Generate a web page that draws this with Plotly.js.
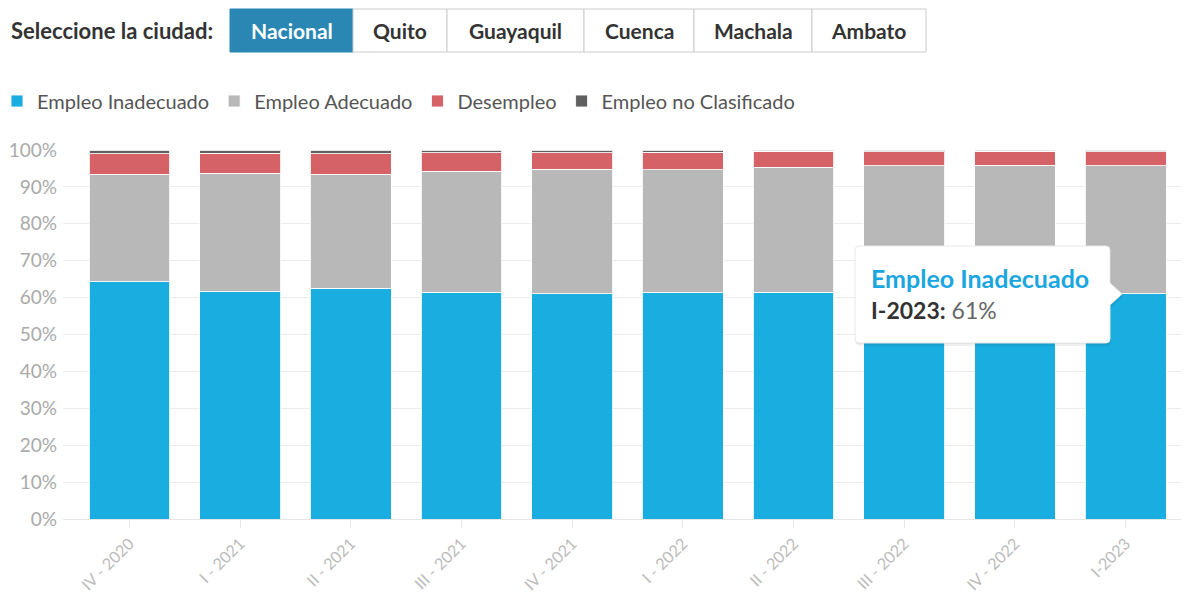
<!DOCTYPE html>
<html>
<head>
<meta charset="utf-8">
<script src="https://cdn.plot.ly/plotly-3.0.1.min.js"></script>
<style>
  html, body { margin: 0; padding: 0; background: #fff; }
  #chart { width: 1184px; height: 594px; }
</style>
</head>
<body>
<div id="chart"></div>
<script>
// ---- data ----
const categories = ['IV - 2020', 'I - 2021', 'II - 2021', 'III - 2021', 'IV - 2021', 'I - 2022', 'II - 2022', 'III - 2022', 'IV - 2022', 'I-2023'];
const empleoInadecuado = [64.3, 61.6, 62.6, 61.4, 61.0, 61.3, 61.5, 61.4, 60.6, 61.0];
const empleoAdecuado   = [29.1, 32.1, 30.8, 32.9, 33.8, 33.3, 33.8, 34.3, 35.3, 34.8];
const desempleo        = [5.6, 5.4, 5.6, 5.0, 4.5, 4.8, 4.4, 3.8, 3.8, 3.7];
const noClasificado    = [1.0, 0.9, 1.0, 0.7, 0.7, 0.6, 0.3, 0.5, 0.3, 0.5];
const seriesNames = ['Empleo Inadecuado', 'Empleo Adecuado', 'Desempleo', 'Empleo no Clasificado'];
const cities = ['Nacional', 'Quito', 'Guayaquil', 'Cuenca', 'Machala', 'Ambato'];
const selectorLabel = 'Seleccione la ciudad:';
const tooltipIndex = 9;

// ---- layout helpers ----
const W = 1184, H = 594;
const M = { l: 63, r: 3, t: 150, b: 75, autoexpand: false };
const PW = W - M.l - M.r, PH = H - M.t - M.b;
const px = x => (x - M.l) / PW;
const py = y => (H - M.b - y) / PH;
const FONT = 'Lato, "Open Sans", sans-serif';
const colors = ['#1aade0', '#b8b8b8', '#d46266', '#606060'];

const values = [empleoInadecuado, empleoAdecuado, desempleo, noClasificado];
const traces = values.map((v, i) => ({
  type: 'bar',
  name: seriesNames[i],
  x: categories,
  y: v,
  marker: { color: colors[i], line: { color: 'rgba(255,255,255,0.85)', width: 1 } },
  hoverinfo: 'none'
}));

// ---- city selector (buttons drawn as shapes + text) ----
const btnEdges = [230, 353, 447, 584, 694, 812, 926];
const shapes = [];
const annotations = [];
annotations.push({
  xref: 'paper', yref: 'paper', x: px(9), y: py(30), xanchor: 'left', yanchor: 'middle',
  text: selectorLabel, showarrow: false,
  font: { family: FONT, size: 22, color: '#333', weight: 700 }
});
cities.forEach((c, i) => {
  const x0 = btnEdges[i], x1 = btnEdges[i + 1];
  const active = i === 0;
  shapes.push({
    type: 'rect', xref: 'paper', yref: 'paper',
    x0: px(x0), x1: px(x1), y0: py(52), y1: py(9),
    fillcolor: active ? '#2a87b4' : '#ffffff',
    line: { color: active ? '#2a87b4' : '#cccccc', width: 1 },
    layer: 'above'
  });
  annotations.push({
    xref: 'paper', yref: 'paper', x: px((x0 + x1) / 2), y: py(30), xanchor: 'center', yanchor: 'middle',
    text: c, showarrow: false,
    font: { family: FONT, size: 21, color: active ? '#ffffff' : '#333333', weight: 700 }
  });
});

// ---- tooltip ----
function tipPath(dx, dy) {
  const L = 855 + dx, R = 1110 + dx, T = 246 + dy, B = 343 + dy, r = 4, ay = 294 + dy;
  const P = (x, y) => px(x) + ',' + py(y);
  return 'M' + P(L + r, T) + ' L' + P(R - r, T) + ' Q' + P(R, T) + ' ' + P(R, T + r) +
    ' L' + P(R, ay - 11) + ' L' + P(R + 12, ay) + ' L' + P(R, ay + 11) +
    ' L' + P(R, B - r) + ' Q' + P(R, B) + ' ' + P(R - r, B) +
    ' L' + P(L + r, B) + ' Q' + P(L, B) + ' ' + P(L, B - r) +
    ' L' + P(L, T + r) + ' Q' + P(L, T) + ' ' + P(L + r, T) + ' Z';
}
shapes.push({ type: 'path', xref: 'paper', yref: 'paper', path: tipPath(1, 3), fillcolor: 'rgba(0,0,0,0.06)', line: { width: 0 }, layer: 'above' });
shapes.push({ type: 'path', xref: 'paper', yref: 'paper', path: tipPath(0, 1), fillcolor: 'rgba(0,0,0,0.06)', line: { width: 0 }, layer: 'above' });
shapes.push({ type: 'path', xref: 'paper', yref: 'paper', path: tipPath(0, 0), fillcolor: '#ffffff', line: { color: '#e8e8e8', width: 1 }, layer: 'above' });
annotations.push({
  xref: 'paper', yref: 'paper', x: px(869), y: py(278), xanchor: 'left', yanchor: 'middle',
  text: seriesNames[0], showarrow: false,
  font: { family: FONT, size: 25, color: '#1aa6e0', weight: 700 }
});
annotations.push({
  xref: 'paper', yref: 'paper', x: px(869), y: py(310), xanchor: 'left', yanchor: 'middle',
  text: '<b>' + categories[tooltipIndex] + ':</b> <span style="color:#666">' + Math.round(empleoInadecuado[tooltipIndex]) + '%</span>',
  showarrow: false,
  font: { family: FONT, size: 23, color: '#333' }
});

const layout = {
  width: W, height: H,
  margin: M,
  paper_bgcolor: '#ffffff', plot_bgcolor: '#ffffff',
  barmode: 'stack', bargap: 0.27,
  font: { family: FONT, color: '#555' },
  showlegend: true,
  legend: {
    orientation: 'h', x: px(-3), xanchor: 'left', y: py(101), yanchor: 'middle',
    traceorder: 'normal', itemwidth: 30, itemclick: false, itemdoubleclick: false,
    font: { family: FONT, size: 20, color: '#555' }
  },
  xaxis: {
    type: 'category', range: [-0.6, 9.5], fixedrange: true, automargin: false,
    tickangle: -45, tickfont: { family: FONT, size: 16, color: '#bbbbbb' },
    ticks: 'outside', ticklen: 8, tickcolor: '#e6e6e6',
    showline: true, linecolor: '#e6e6e6', linewidth: 1, showgrid: false
  },
  yaxis: {
    range: [0, 100], dtick: 10, ticksuffix: '%', fixedrange: true, automargin: false,
    tickfont: { family: FONT, size: 19, color: '#aaaaaa' },
    gridcolor: '#ececec', zeroline: false, showline: false, ticklabelstandoff: 5
  },
  hovermode: false,
  shapes: shapes,
  annotations: annotations
};

Plotly.newPlot('chart', traces, layout, { displayModeBar: false, staticPlot: false });
</script>
</body>
</html>
